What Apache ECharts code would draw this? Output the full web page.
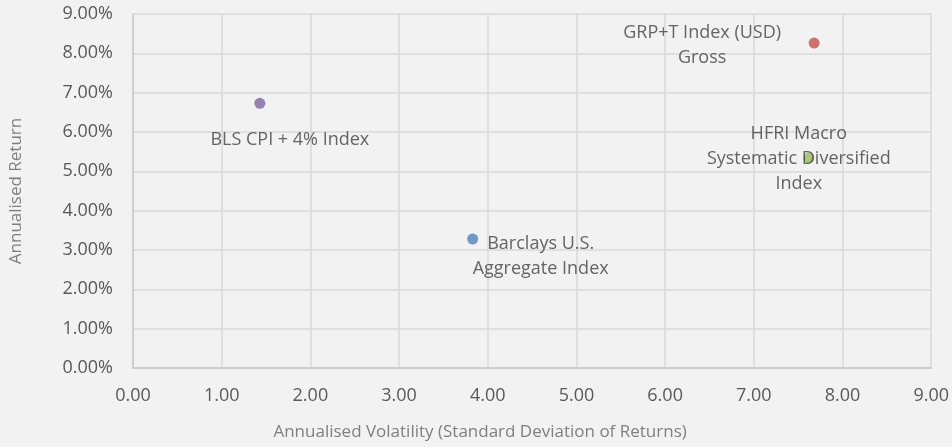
<!DOCTYPE html>
<html>
<head>
<meta charset="utf-8">
<script src="https://cdn.jsdelivr.net/npm/echarts@6/dist/echarts.min.js"></script>
<style>
    html, body { margin: 0; padding: 0; background: #f2f2f2; }
    #echarts { width: 952px; height: 447px; }
</style>
</head>
<body>
<div id="echarts"></div>
<script>
    var names = ['BLS CPI + 4% Index', 'GRP+T Index (USD)\nGross', 'HFRI Macro\nSystematic Diversified\nIndex', 'Barclays U.S.\nAggregate Index']
    var volatility = [1.43, 7.68, 7.62, 3.83]
    var annReturn = [6.73, 8.26, 5.34, 3.28]
    var colors = ['#8064a2', '#c0504d', '#9bbb59', '#4f81bd']
    var xTicks = [0, 9, 1]   // min, max, step
    var yTicks = [0, 9, 1]

    // label placement (pixels from the marker), hand tuned
    var labelOffsets = [[30, 37], [-112, 2], [-10, 1], [68, 17]]

    var chart = echarts.init(document.getElementById('echarts'))

    var pointData = function () {
        var res = []
        for (var i = 0; i < names.length; i++) {
            res.push({
                name: names[i],
                value: [volatility[i], annReturn[i]],
                itemStyle: { color: colors[i] }
            })
        }
        return res
    }

    var font = '"Open Sans", sans-serif'

    var option = {
        backgroundColor: '#f2f2f2',
        animation: false,
        grid: { left: 130, right: 17, top: 14, bottom: 79 },
        xAxis: {
            type: 'value',
            min: xTicks[0], max: xTicks[1], interval: xTicks[2],
            name: 'Annualised Volatility (Standard Deviation of Returns)',
            nameLocation: 'middle',
            nameGap: 56,
            nameMoveOverlap: false,
            nameTextStyle: { color: '#7f7f7f', fontSize: 17, fontFamily: font, padding: [0, 104, 0, 0] },
            axisLine: { lineStyle: { color: '#c8c8c8', width: 1.5 } },
            axisTick: { show: false },
            axisLabel: {
                color: '#595959', fontSize: 18, fontFamily: font, margin: 19,
                formatter: function (v) { return v.toFixed(2) }
            },
            splitLine: { show: true, lineStyle: { color: '#d9d9d9', width: 1.5 } }
        },
        yAxis: {
            type: 'value',
            min: yTicks[0], max: yTicks[1], interval: yTicks[2],
            name: 'Annualised Return',
            nameLocation: 'middle',
            nameGap: 108,
            nameMoveOverlap: false,
            nameTextStyle: { color: '#7f7f7f', fontSize: 17, fontFamily: font },
            axisLine: { show: true, lineStyle: { color: '#c8c8c8', width: 1.5 } },
            axisTick: { show: false },
            axisLabel: {
                color: '#595959', fontSize: 18, fontFamily: font, margin: 20,
                formatter: function (v) { return v.toFixed(2) + '%' }
            },
            splitLine: { show: true, lineStyle: { color: '#d9d9d9', width: 1.5 } }
        },
        series: [
            {
                type: 'scatter',
                symbolSize: 11,
                data: pointData(),
                label: {
                    show: true,
                    position: 'inside',
                    formatter: '{b}',
                    color: '#404040',
                    fontSize: 18,
                    fontFamily: font,
                    lineHeight: 25,
                    align: 'center',
                    verticalAlign: 'middle'
                },
                labelLayout: function (params) {
                    var off = labelOffsets[params.dataIndex]
                    return { dx: off[0], dy: off[1], hideOverlap: false }
                }
            }
        ]
    }

    chart.setOption(option)
</script>
</body>
</html>
